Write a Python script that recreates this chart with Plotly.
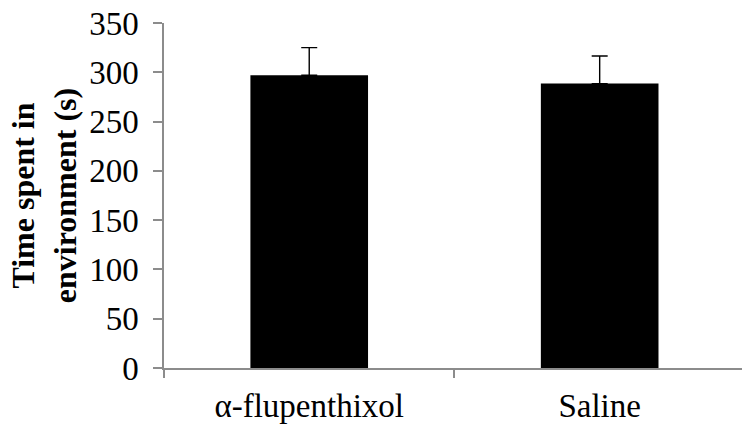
import plotly.graph_objects as go

categories = ["α-flupenthixol", "Saline"]
values = [297, 288.5]
errors = [28, 28]
y_ticks = [0, 50, 100, 150, 200, 250, 300, 350]

FONT = "Liberation Serif, Times New Roman, serif"
AXIS_GRAY = "#8c8c8c"

fig = go.Figure()
fig.add_trace(go.Bar(
    x=categories,
    y=values,
    marker=dict(color="black", line=dict(width=0)),
    error_y=dict(type="data", symmetric=False, array=errors,
                 arrayminus=[0] * len(errors),
                 color="black", thickness=1.4, width=8),
))

fig.update_layout(
    width=742, height=428,
    margin=dict(l=164, r=0, t=23, b=60),
    paper_bgcolor="white", plot_bgcolor="white",
    bargap=0.595,
    showlegend=False,
    font=dict(family=FONT, size=33, color="black"),
)
fig.update_xaxes(
    range=[-0.5, 1.49],
    showline=True, linecolor=AXIS_GRAY, linewidth=1.5,
    ticks="outside", tickson="boundaries", ticklen=8, tickcolor=AXIS_GRAY, tickwidth=1.5,
    ticklabelstandoff=8,
    showgrid=False, zeroline=False,
    tickfont=dict(family=FONT, size=33, color="black"),
)
fig.update_yaxes(
    range=[0, 350],
    tickvals=y_ticks,
    showline=True, linecolor=AXIS_GRAY, linewidth=1.5,
    ticks="outside", ticklen=9, tickcolor=AXIS_GRAY, tickwidth=1.5,
    ticklabelstandoff=8,
    showgrid=False, zeroline=False,
    tickfont=dict(family=FONT, size=33, color="black"),
    title=dict(text="<b>Time spent in<br>environment (s)</b>",
               font=dict(family=FONT, size=32, color="black"), standoff=3),
)

fig.write_html("out.html")
